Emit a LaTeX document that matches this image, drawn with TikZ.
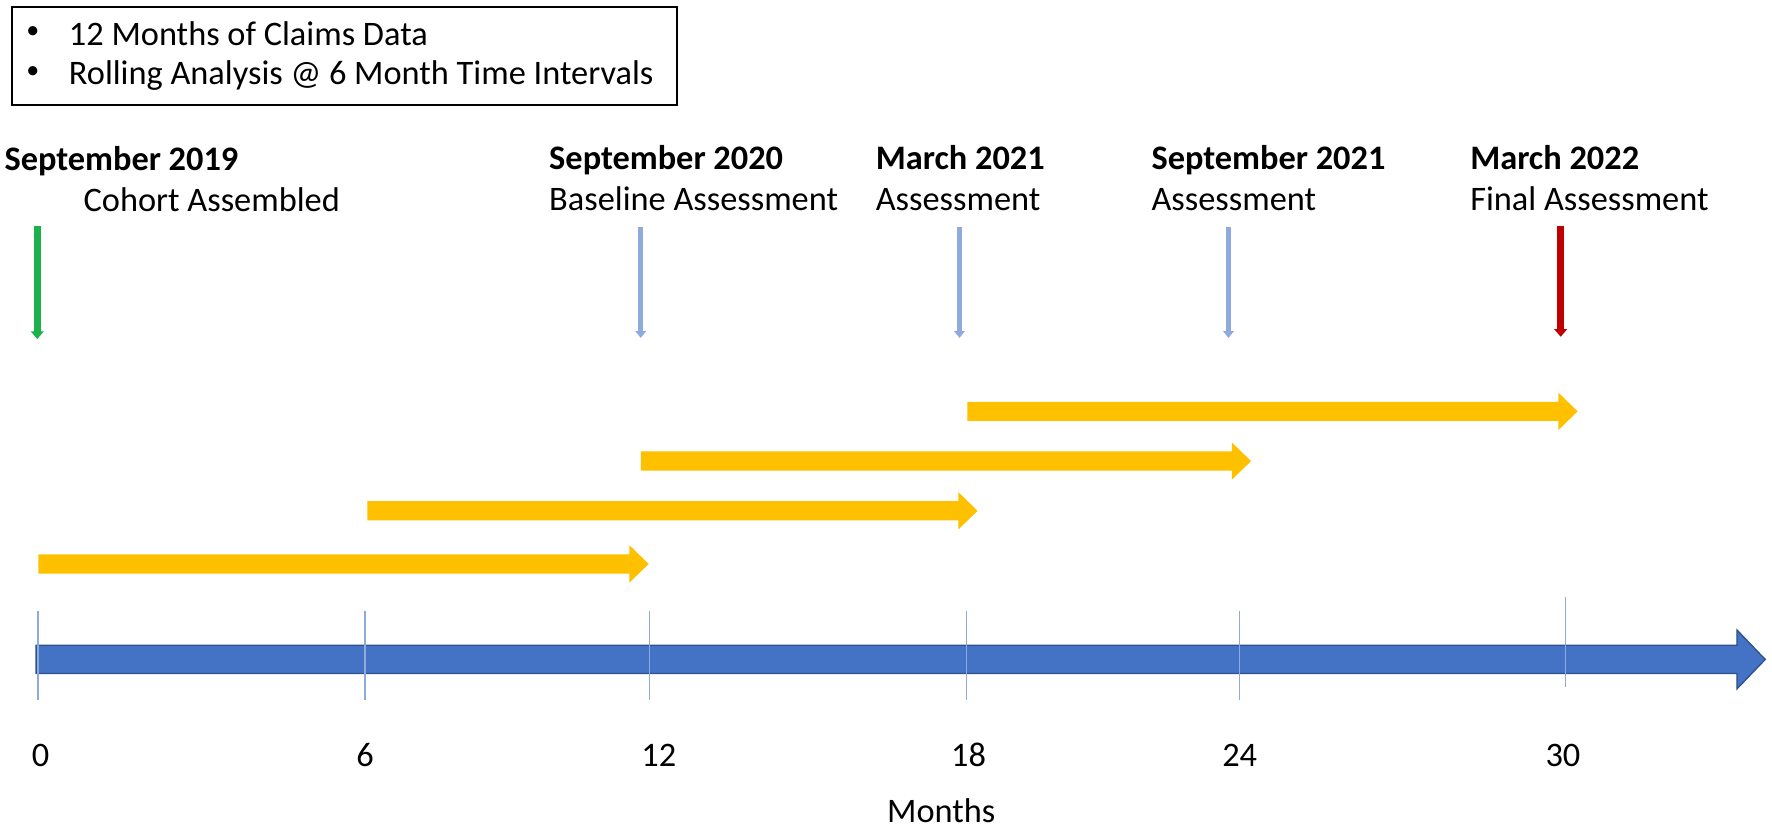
\documentclass[tikz,border=0pt]{standalone}
\usepackage{fontspec}
\setmainfont{Carlito}
\usetikzlibrary{arrows.meta}
\definecolor{ygold}{HTML}{FFC000}
\definecolor{lblue}{HTML}{8FAADC}
\definecolor{mblue}{HTML}{4472C4}
\definecolor{dblue}{HTML}{2F528F}
\definecolor{dred}{HTML}{C00000}
\definecolor{mgreen}{HTML}{1DB14B}
\tikzset{
  txt/.style={anchor=base west, inner sep=0pt, outer sep=0pt},
  num/.style={anchor=base, inner sep=0pt, outer sep=0pt},
  bul/.style={anchor=center, inner sep=0pt, outer sep=0pt, font=\fontsize{11.5}{12}\selectfont},
  tickline/.style={draw=lblue, line width=0.6pt},
  thinarr/.style={draw=lblue, line width=2.2pt, -{Triangle[width=4.6pt,length=3pt]}},
  greenarr/.style={draw=mgreen, line width=3.2pt, -{Triangle[width=5.6pt,length=3.4pt]}},
  redarr/.style={draw=dred, line width=3.2pt, -{Triangle[width=5.6pt,length=3.4pt]}},
  yarrow/.pic={\fill[ygold] (0,-8.5) -- (523,-8.5) -- (523,-16.5) -- (540,0) -- (523,16.5) -- (523,8.5) -- (0,8.5) -- cycle;}
}
\begin{document}
\begin{tikzpicture}[x=0.5pt,y=-0.5pt, font=\fontsize{15.2}{18}\selectfont]
\useasboundingbox[fill=white] (0,0) rectangle (1568,735);

% legend box
\node[draw, line width=0.9pt, minimum width=294pt, minimum height=43.5pt, anchor=north west, inner sep=0pt] (legend) at (10,5) {};
\node[bul] (b1) at (29,29) {•};
\node[txt] (l1) at (61,40) {12 Months of Claims Data};
\node[bul] (b2) at (29,64) {•};
\node[txt] (l2) at (61,75) {Rolling Analysis @ 6 Month Time Intervals};

% event labels
\node[txt] (d0) at (4,151) {\textbf{September 2019}};
\node[txt] (e0) at (74,187) {Cohort Assembled};
\node[txt] (d1) at (486,150) {\textbf{September 2020}};
\node[txt] (e1) at (486,186) {Baseline Assessment};
\node[txt] (d2) at (775,150) {\textbf{March 2021}};
\node[txt] (e2) at (775,186) {Assessment};
\node[txt] (d3) at (1019,150) {\textbf{September 2021}};
\node[txt] (e3) at (1019,186) {Assessment};
\node[txt] (d4) at (1301,150) {\textbf{March 2022}};
\node[txt] (e4) at (1301,186) {Final Assessment};

% event arrows
\coordinate (g1) at (33,200);  \coordinate (g2) at (33,300);
\coordinate (a1) at (567,201); \coordinate (a2) at (567,299);
\coordinate (c1) at (849,201); \coordinate (c2) at (849,299);
\coordinate (s1) at (1087,201);\coordinate (s2) at (1087,299);
\coordinate (r1) at (1381,200);\coordinate (r2) at (1381,298);
\draw[greenarr] (g1) -- (g2);
\draw[thinarr] (a1) -- (a2);
\draw[thinarr] (c1) -- (c2);
\draw[thinarr] (s1) -- (s2);
\draw[redarr] (r1) -- (r2);

% rolling windows
\pic at (34,499) {yarrow};
\pic at (325,452) {yarrow};
\pic at (567,408) {yarrow};
\pic at (856,364) {yarrow};

% main axis arrow
\fill[mblue, draw=dblue, line width=0.6pt] (32,571) -- (1537,571) -- (1537,557.5) -- (1562,583.5) -- (1537,609.5) -- (1537,596) -- (32,596) -- cycle;

% ticks
\coordinate (k0a) at (33.5,541); \coordinate (k0b) at (33.5,619);
\coordinate (k1a) at (323,541);  \coordinate (k1b) at (323,619);
\coordinate (k2a) at (575,541);  \coordinate (k2b) at (575,619);
\coordinate (k3a) at (855.5,541);\coordinate (k3b) at (855.5,619);
\coordinate (k4a) at (1097,541); \coordinate (k4b) at (1097,619);
\coordinate (k5a) at (1385,528); \coordinate (k5b) at (1385,608);
\draw[tickline] (k0a) -- (k0b);
\draw[tickline] (k1a) -- (k1b);
\draw[tickline] (k2a) -- (k2b);
\draw[tickline] (k3a) -- (k3b);
\draw[tickline] (k4a) -- (k4b);
\draw[tickline] (k5a) -- (k5b);

% numbers
\node[num] (n0) at (36,678) {0};
\node[num] (n6) at (323,678) {6};
\node[num] (n12) at (583,678) {12};
\node[num] (n18) at (857,678) {18};
\node[num] (n24) at (1097,678) {24};
\node[num] (n30) at (1383,678) {30};
\node[txt] (months) at (785,728) {Months};
\end{tikzpicture}
\end{document}
